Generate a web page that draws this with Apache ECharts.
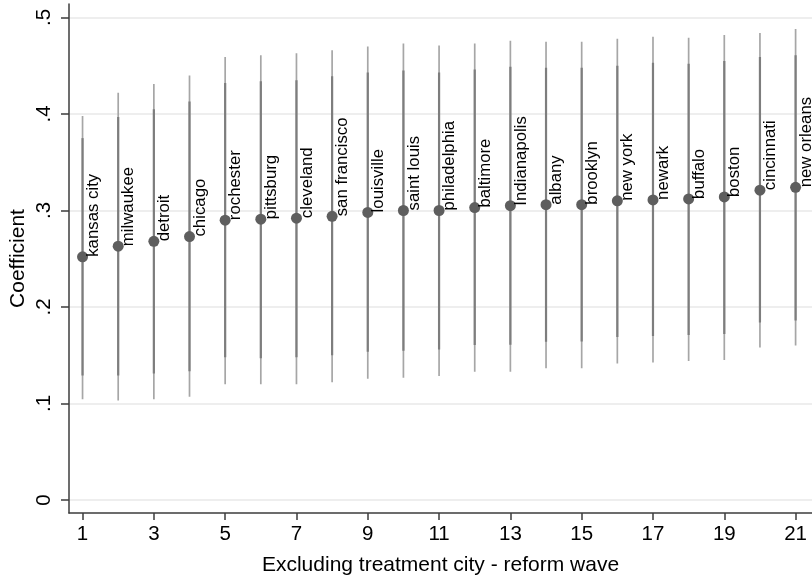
<!DOCTYPE html>
<html>
<head>
<meta charset="utf-8">
<script src="https://cdn.jsdelivr.net/npm/echarts@6/dist/echarts.min.js"></script>
<style>
  html, body { margin: 0; padding: 0; background: #ffffff; }
  #chart { width: 812px; height: 575px; }
</style>
</head>
<body>
<div id="chart"></div>
<script>
// Leave-one-out estimates: each wave drops one treatment city
const cities = ['kansas city', 'milwaukee', 'detroit', 'chicago', 'rochester', 'pittsburg',
  'cleveland', 'san francisco', 'louisville', 'saint louis', 'philadelphia', 'baltimore',
  'Indianapolis', 'albany', 'brooklyn', 'new york', 'newark', 'buffalo', 'boston',
  'cincinnati', 'new orleans'];
const waves = [1, 2, 3, 4, 5, 6, 7, 8, 9, 10, 11, 12, 13, 14, 15, 16, 17, 18, 19, 20, 21];
const coef = [0.252, 0.263, 0.268, 0.273, 0.290, 0.291, 0.292, 0.294, 0.298, 0.300, 0.300,
  0.303, 0.305, 0.306, 0.306, 0.310, 0.311, 0.312, 0.314, 0.321, 0.324];
// 95% confidence bounds
const lo95 = [0.1045, 0.103, 0.1045, 0.107, 0.120, 0.120, 0.120, 0.122, 0.1255, 0.1266, 0.1286,
  0.1328, 0.1328, 0.1366, 0.1366, 0.1415, 0.1425, 0.144, 0.145, 0.158, 0.160];
const hi95 = [0.398, 0.422, 0.431, 0.440, 0.459, 0.461, 0.463, 0.466, 0.470, 0.473, 0.471,
  0.473, 0.476, 0.475, 0.475, 0.478, 0.480, 0.479, 0.482, 0.484, 0.488];
// 90% confidence bounds
const lo90 = [0.129, 0.129, 0.131, 0.1335, 0.148, 0.147, 0.148, 0.150, 0.1535, 0.1546, 0.156,
  0.1605, 0.1608, 0.164, 0.1643, 0.1688, 0.170, 0.171, 0.172, 0.184, 0.186];
const hi90 = [0.375, 0.397, 0.405, 0.413, 0.432, 0.434, 0.435, 0.439, 0.443, 0.445, 0.443,
  0.446, 0.449, 0.448, 0.448, 0.450, 0.453, 0.452, 0.455, 0.459, 0.461];
// Axis ticks
const xTicks = [1, 3, 5, 7, 9, 11, 13, 15, 17, 19, 21];
const yTicks = [0, 0.1, 0.2, 0.3, 0.4, 0.5];

const FONT = '"Liberation Sans", Arial, Helvetica, sans-serif';
const AXIS_COLOR = '#3d3d3d';

const ciData = waves.map((w, i) => [w, lo95[i], hi95[i], lo90[i], hi90[i]]);
const pointData = waves.map((w, i) => [w, coef[i]]);
const labelData = waves.map((w, i) => [w, coef[i], cities[i]]);

const chart = echarts.init(document.getElementById('chart'), null, { renderer: 'canvas' });

const option = {
  animation: false,
  backgroundColor: '#ffffff',
  grid: { left: 69, right: 0, top: 4, bottom: 62, containLabel: false, outerBoundsMode: 'none' },
  xAxis: {
    type: 'value',
    min: 0.62,
    max: 21.46,
    axisLine: { show: true, onZero: false, lineStyle: { color: AXIS_COLOR, width: 1.5 } },
    axisTick: { show: true, length: 7, customValues: xTicks, lineStyle: { color: AXIS_COLOR, width: 1.5 } },
    axisLabel: { customValues: xTicks, margin: 11, fontSize: 20.5, color: '#000', fontFamily: FONT },
    splitLine: { show: false },
    name: 'Excluding treatment city - reform wave',
    nameLocation: 'middle',
    nameGap: 42,
    nameMoveOverlap: false,
    nameTextStyle: { fontSize: 21, color: '#000', fontFamily: FONT }
  },
  yAxis: {
    type: 'value',
    min: -0.0135,
    max: 0.514,
    axisLine: { show: true, onZero: false, lineStyle: { color: AXIS_COLOR, width: 1.5 } },
    axisTick: { show: true, length: 8, customValues: yTicks, lineStyle: { color: AXIS_COLOR, width: 1.5 } },
    axisLabel: {
      customValues: yTicks,
      rotate: 90,
      margin: 14,
      fontSize: 20.5,
      color: '#000',
      fontFamily: FONT,
      formatter: v => String(v).replace(/^0\./, '.')
    },
    splitLine: { show: true, lineStyle: { color: '#e8e8e8', width: 1.5 } },
    name: 'Coefficient',
    nameLocation: 'middle',
    nameGap: 40,
    nameRotate: 90,
    nameMoveOverlap: false,
    nameTextStyle: { fontSize: 21, color: '#000', fontFamily: FONT }
  },
  series: [
    {
      // confidence intervals: thin light 95% band under a heavier 90% band
      type: 'custom',
      data: ciData,
      encode: { x: 0, y: [1, 2, 3, 4] },
      silent: true,
      z: 2,
      renderItem: (params, api) => {
        const x = api.value(0);
        const a95 = api.coord([x, api.value(1)]);
        const b95 = api.coord([x, api.value(2)]);
        const a90 = api.coord([x, api.value(3)]);
        const b90 = api.coord([x, api.value(4)]);
        return {
          type: 'group',
          children: [
            { type: 'line', shape: { x1: a95[0], y1: a95[1], x2: b95[0], y2: b95[1] },
              style: { stroke: '#a6a6a6', lineWidth: 1.7 } },
            { type: 'line', shape: { x1: a90[0], y1: a90[1], x2: b90[0], y2: b90[1] },
              style: { stroke: '#7d7d7d', lineWidth: 2.2 } }
          ]
        };
      }
    },
    {
      type: 'scatter',
      data: pointData,
      symbol: 'circle',
      symbolSize: 11,
      itemStyle: { color: '#5e5e5e', opacity: 1 },
      silent: true,
      z: 3
    },
    {
      // city names, written upward from each estimate
      type: 'custom',
      data: labelData,
      encode: { x: 0, y: 1 },
      silent: true,
      z: 4,
      renderItem: (params, api) => {
        const c = api.coord([api.value(0), api.value(1)]);
        return {
          type: 'text',
          x: c[0] + 2,
          y: c[1],
          rotation: Math.PI / 2,
          style: {
            text: labelData[params.dataIndex][2],
            fill: '#000',
            font: '16.8px ' + FONT,
            align: 'left',
            verticalAlign: 'top'
          }
        };
      }
    }
  ]
};

chart.setOption(option);
</script>
</body>
</html>
